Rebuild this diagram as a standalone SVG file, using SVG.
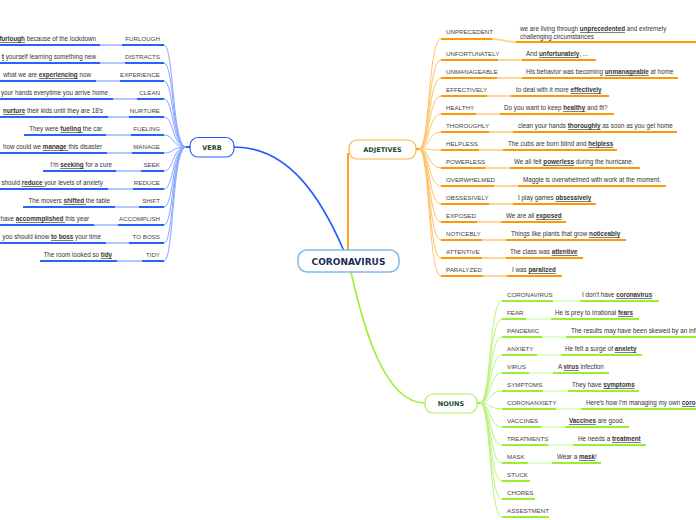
<svg xmlns="http://www.w3.org/2000/svg" width="696" height="520" viewBox="0 0 696 520">
<style>
.lab{font-family:"Liberation Sans",Arial,sans-serif;font-size:6.2px;fill:#444}
.ex{font-family:"Liberation Sans",Arial,sans-serif;font-size:6.3px;fill:#333}
.k{font-weight:bold;text-decoration:underline}
.nt{font-family:"DejaVu Sans",Verdana,sans-serif;font-weight:bold;font-size:6.5px;fill:#1b4a35;text-anchor:middle}
.bd{stroke:#2962ff;stroke-width:2;fill:none}
.bl{stroke:#b3c6ff;stroke-width:2;fill:none}
.bf{stroke:#86a4ff;stroke-width:1;fill:none}
.od{stroke:#ff9900;stroke-width:2;fill:none}
.ol{stroke:#ffd699;stroke-width:2;fill:none}
.of{stroke:#ffc266;stroke-width:1;fill:none}
.gd{stroke:#99f033;stroke-width:2;fill:none}
.gl{stroke:#e0ffc8;stroke-width:2;fill:none}
.gf{stroke:#b8f57a;stroke-width:1;fill:none}
.r{text-anchor:end}
</style>
<rect width="696" height="520" fill="#ffffff"/>
<g id="connectors">
<path d="M234 147 C290 147 322 200 344 251" stroke="#2459ff" stroke-width="1.6" fill="none"/>
<path d="M348 251 L348 153" stroke="#ff9900" stroke-width="1.8" fill="none"/>
<path d="M351 272 C364 330 385 403 425 403" stroke="#99f033" stroke-width="1.6" fill="none"/>
<path d="M184 147 L190 147" class="bd"/>
<g class="bf">
<path d="M164 45 C174 45 172 147 186 147"/>
<path d="M164 63 C174 63 172 147 186 147"/>
<path d="M164 81 C174 81 172 147 186 147"/>
<path d="M164 99 C174 99 172 147 186 147"/>
<path d="M164 117 C174 117 172 147 186 147"/>
<path d="M164 135 C174 135 172 147 186 147"/>
<path d="M164 153 C174 153 172 147 186 147"/>
<path d="M164 171 C174 171 172 147 186 147"/>
<path d="M164 189 C174 189 172 147 186 147"/>
<path d="M164 207 C174 207 172 147 186 147"/>
<path d="M164 225 C174 225 172 147 186 147"/>
<path d="M164 243 C174 243 172 147 186 147"/>
<path d="M164 261 C174 261 172 147 186 147"/>
</g>
<path d="M416 149 L421 149" class="od"/>
<g class="of">
<path d="M419 149 C430 149 428 39 441 39"/>
<path d="M419 149 C430 149 428 60 441 60"/>
<path d="M419 149 C430 149 428 78 441 78"/>
<path d="M419 149 C430 149 428 96 441 96"/>
<path d="M419 149 C430 149 428 114 441 114"/>
<path d="M419 149 C430 149 428 132 441 132"/>
<path d="M419 149 C430 149 428 150 441 150"/>
<path d="M419 149 C430 149 428 168 441 168"/>
<path d="M419 149 C430 149 428 186 441 186"/>
<path d="M419 149 C430 149 428 204 441 204"/>
<path d="M419 149 C430 149 428 222 441 222"/>
<path d="M419 149 C430 149 428 240 441 240"/>
<path d="M419 149 C430 149 428 258 441 258"/>
<path d="M419 149 C430 149 428 276 441 276"/>
</g>
<path d="M477 403 L482 403" class="gd"/>
<g class="gf">
<path d="M480 403 C491 403 489 301 502 301"/>
<path d="M480 403 C491 403 489 319 502 319"/>
<path d="M480 403 C491 403 489 337 502 337"/>
<path d="M480 403 C491 403 489 355 502 355"/>
<path d="M480 403 C491 403 489 373 502 373"/>
<path d="M480 403 C491 403 489 391 502 391"/>
<path d="M480 403 C491 403 489 409 502 409"/>
<path d="M480 403 C491 403 489 427 502 427"/>
<path d="M480 403 C491 403 489 445 502 445"/>
<path d="M480 403 C491 403 489 463 502 463"/>
<path d="M480 403 C491 403 489 481 502 481"/>
<path d="M480 403 C491 403 489 499 502 499"/>
<path d="M480 403 C491 403 489 517 502 517"/>
</g>
</g>
<g id="node-coronavirus">
<rect x="298" y="250" width="101" height="22" rx="9" fill="#fff" stroke="#80bce8" stroke-width="1.5"/>
<text x="348.5" y="264.5" class="nt" style="font-size:9px;fill:#1a2b58">CORONAVIRUS</text>
</g>
<g id="node-verb">
<rect x="190" y="137.5" width="44" height="19.5" rx="8" fill="#fff" stroke="#2459ff" stroke-width="1.2"/>
<text x="212" y="149.5" class="nt">VERB</text>
</g>
<g id="node-adjetives">
<rect x="349" y="140" width="67" height="19" rx="8" fill="#fff" stroke="#ffb040" stroke-width="1.2"/>
<text x="382.5" y="152" class="nt">ADJETIVES</text>
</g>
<g id="node-nouns">
<rect x="425" y="394" width="52" height="19" rx="8" fill="#fff" stroke="#a8f060" stroke-width="1.2"/>
<text x="451" y="406" class="nt">NOUNS</text>
</g>
<g id="verb-items">
<g id="v-furlough"><path d="M0 45H100" class="bd"/><path d="M100 45H122" class="bl"/><path d="M122 45H164" class="bd"/><text x="160" y="41" class="lab r">FURLOUGH</text><text x="96" y="41" class="ex r"><tspan class="k">furlough</tspan> because of the lockdown</text></g>
<g id="v-distracts"><path d="M0 63H100" class="bd"/><path d="M100 63H125" class="bl"/><path d="M125 63H164" class="bd"/><text x="160" y="59" class="lab r">DISTRACTS</text><text x="96" y="59" class="ex r"><tspan class="k">t</tspan> yourself learning something new</text></g>
<g id="v-experience"><path d="M0 81H96" class="bd"/><path d="M96 81H120" class="bl"/><path d="M120 81H164" class="bd"/><text x="160" y="77" class="lab r">EXPERIENCE</text><text x="91" y="77" class="ex r">what we are <tspan class="k">experiencing</tspan> now</text></g>
<g id="v-clean"><path d="M0 99H113" class="bd"/><path d="M113 99H137" class="bl"/><path d="M137 99H164" class="bd"/><text x="160" y="95" class="lab r">CLEAN</text><text x="108" y="95" class="ex r">your hands everytime you arrive home</text></g>
<g id="v-nurture"><path d="M0 117H108" class="bd"/><path d="M108 117H129" class="bl"/><path d="M129 117H164" class="bd"/><text x="160" y="113" class="lab r">NURTURE</text><text x="103" y="113" class="ex r"><tspan class="k">nurture</tspan> their kids until they are 18's</text></g>
<g id="v-fueling"><path d="M24 135H106" class="bd"/><path d="M106 135H131" class="bl"/><path d="M131 135H164" class="bd"/><text x="160" y="131" class="lab r">FUELING</text><text x="102" y="131" class="ex r">They were <tspan class="k">fueling </tspan>the car</text></g>
<g id="v-manage"><path d="M0 153H107" class="bd"/><path d="M107 153H132" class="bl"/><path d="M132 153H164" class="bd"/><text x="160" y="149" class="lab r">MANAGE</text><text x="102" y="149" class="ex r">how could we <tspan class="k">manage </tspan>this disaster</text></g>
<g id="v-seek"><path d="M43 171H116" class="bd"/><path d="M116 171H141" class="bl"/><path d="M141 171H164" class="bd"/><text x="160" y="167" class="lab r">SEEK</text><text x="112" y="167" class="ex r">I'm <tspan class="k">seeking</tspan> for a cure</text></g>
<g id="v-reduce"><path d="M0 189H108" class="bd"/><path d="M108 189H133" class="bl"/><path d="M133 189H164" class="bd"/><text x="160" y="185" class="lab r">REDUCE</text><text x="103" y="185" class="ex r">should <tspan class="k">reduce </tspan>your levels of anxiety</text></g>
<g id="v-shift"><path d="M23 207H115" class="bd"/><path d="M115 207H139" class="bl"/><path d="M139 207H164" class="bd"/><text x="160" y="203" class="lab r">SHIFT</text><text x="110" y="203" class="ex r">The movers <tspan class="k">shifted </tspan>the table</text></g>
<g id="v-accomplish"><path d="M0 225H94" class="bd"/><path d="M94 225H118" class="bl"/><path d="M118 225H164" class="bd"/><text x="160" y="221" class="lab r">ACCOMPLISH</text><text x="89" y="221" class="ex r">have <tspan class="k">accommplished </tspan>this year</text></g>
<g id="v-toboss"><path d="M0 243H106" class="bd"/><path d="M106 243H129" class="bl"/><path d="M129 243H164" class="bd"/><text x="160" y="239" class="lab r">TO BOSS</text><text x="101" y="239" class="ex r">you should know <tspan class="k">to boss</tspan> your time</text></g>
<g id="v-tidy"><path d="M40 261H117" class="bd"/><path d="M117 261H142" class="bl"/><path d="M142 261H164" class="bd"/><text x="160" y="257" class="lab r">TIDY</text><text x="112" y="257" class="ex r">The room looked so <tspan class="k">tidy</tspan></text></g>
</g>
<g id="adj-items">
<g id="a-unprecedent"><path d="M441 39H492" class="od"/><path d="M492 39C502 39 506 42 516 42" class="ol"/><path d="M516 42H696" class="od"/><text x="446" y="34" class="lab">UNPRECEDENT</text><text x="520" y="31" class="ex">we are living through <tspan class="k">unprecedented</tspan> and extremely</text><text x="520" y="39" class="ex">challenging circumstances</text></g>
<g id="a-unfortunately"><path d="M441 60H498" class="od"/><path d="M498 60H522" class="ol"/><path d="M522 60H596" class="od"/><text x="446" y="56" class="lab">UNFORTUNATELY</text><text x="526" y="56" class="ex">And <tspan class="k">unfortunately</tspan>, ...</text></g>
<g id="a-unmanageable"><path d="M441 78H497" class="od"/><path d="M497 78H522" class="ol"/><path d="M522 78H678" class="od"/><text x="446" y="74" class="lab">UNMANAGEABLE</text><text x="526" y="74" class="ex">His behavior was becoming <tspan class="k">unmanageable</tspan> at home</text></g>
<g id="a-effectively"><path d="M441 96H487" class="od"/><path d="M487 96H511" class="ol"/><path d="M511 96H609" class="od"/><text x="446" y="92" class="lab">EFFECTIVELY</text><text x="516" y="92" class="ex">to deal with it more <tspan class="k">effectively</tspan></text></g>
<g id="a-healthy"><path d="M441 114H476" class="od"/><path d="M476 114H500" class="ol"/><path d="M500 114H614" class="od"/><text x="446" y="110" class="lab">HEALTHY</text><text x="504" y="110" class="ex">Do you want to keep <tspan class="k">healthy</tspan> and fit?</text></g>
<g id="a-thoroughly"><path d="M441 132H489" class="od"/><path d="M489 132H513" class="ol"/><path d="M513 132H677" class="od"/><text x="446" y="128" class="lab">THOROUGHLY</text><text x="518" y="128" class="ex">clean your hands <tspan class="k">thoroughly</tspan> as soon as you get home</text></g>
<g id="a-helpless"><path d="M441 150H479" class="od"/><path d="M479 150H503" class="ol"/><path d="M503 150H617" class="od"/><text x="446" y="146" class="lab">HELPLESS</text><text x="508" y="146" class="ex">The cubs are born blind and <tspan class="k">helpless</tspan></text></g>
<g id="a-powerless"><path d="M441 168H485" class="od"/><path d="M485 168H510" class="ol"/><path d="M510 168H640" class="od"/><text x="446" y="164" class="lab">POWERLESS</text><text x="514" y="164" class="ex">We all felt <tspan class="k">powerless</tspan> during the hurricane.</text></g>
<g id="a-overwhelmed"><path d="M441 186H494" class="od"/><path d="M494 186H518" class="ol"/><path d="M518 186H666" class="od"/><text x="446" y="182" class="lab">OVERWHELMED</text><text x="523" y="182" class="ex">Maggie is overwhelmed with work at the moment.</text></g>
<g id="a-obssesively"><path d="M441 204H489" class="od"/><path d="M489 204H513" class="ol"/><path d="M513 204H596" class="od"/><text x="446" y="200" class="lab">OBSSESIVELY</text><text x="518" y="200" class="ex">I play games <tspan class="k">obsessively</tspan></text></g>
<g id="a-exposed"><path d="M441 222H477" class="od"/><path d="M477 222H501" class="ol"/><path d="M501 222H566" class="od"/><text x="446" y="218" class="lab">EXPOSED</text><text x="506" y="218" class="ex">We are all <tspan class="k">exposed</tspan></text></g>
<g id="a-noticebly"><path d="M441 240H482" class="od"/><path d="M482 240H506" class="ol"/><path d="M506 240H626" class="od"/><text x="446" y="236" class="lab">NOTICEBLY</text><text x="511" y="236" class="ex">Things like plants that grow <tspan class="k">noticeably</tspan></text></g>
<g id="a-attentive"><path d="M441 258H482" class="od"/><path d="M482 258H506" class="ol"/><path d="M506 258H583" class="od"/><text x="446" y="254" class="lab">ATTENTIVE</text><text x="510" y="254" class="ex">The class was <tspan class="k">attentive</tspan></text></g>
<g id="a-paralyzed"><path d="M441 276H483" class="od"/><path d="M483 276H507" class="ol"/><path d="M507 276H562" class="od"/><text x="446" y="272" class="lab">PARALYZED</text><text x="512" y="272" class="ex">I was <tspan class="k">paralized</tspan></text></g>
</g>
<g id="noun-items">
<g id="n-coronavirus"><path d="M502 301H553" class="gd"/><path d="M553 301H580" class="gl"/><path d="M580 301H659" class="gd"/><text x="507" y="297" class="lab">CORONAVIRUS</text><text x="582" y="297" class="ex">I don't have <tspan class="k">coronavirus</tspan></text></g>
<g id="n-fear"><path d="M502 319H526" class="gd"/><path d="M526 319H551" class="gl"/><path d="M551 319H639" class="gd"/><text x="507" y="315" class="lab">FEAR</text><text x="555" y="315" class="ex">He is prey to irrational <tspan class="k">fears</tspan></text></g>
<g id="n-pandemic"><path d="M502 337H542" class="gd"/><path d="M542 337H566" class="gl"/><path d="M566 337H696" class="gd"/><text x="507" y="333" class="lab">PANDEMIC</text><text x="571" y="333" class="ex">The results may have been skewed by an infl</text></g>
<g id="n-anxiety"><path d="M502 355H537" class="gd"/><path d="M537 355H561" class="gl"/><path d="M561 355H642" class="gd"/><text x="507" y="351" class="lab">ANXIETY</text><text x="565" y="351" class="ex">He felt a surge of <tspan class="k">anxiety</tspan></text></g>
<g id="n-virus"><path d="M502 373H529" class="gd"/><path d="M529 373H553" class="gl"/><path d="M553 373H609" class="gd"/><text x="507" y="369" class="lab">VIRUS</text><text x="558" y="369" class="ex">A <tspan class="k">virus</tspan> infection</text></g>
<g id="n-symptoms"><path d="M502 391H543" class="gd"/><path d="M543 391H568" class="gl"/><path d="M568 391H639" class="gd"/><text x="507" y="387" class="lab">SYMPTOMS</text><text x="572" y="387" class="ex">They have <tspan class="k">symptoms</tspan></text></g>
<g id="n-coronanxiety"><path d="M502 409H556" class="gd"/><path d="M556 409H581" class="gl"/><path d="M581 409H696" class="gd"/><text x="507" y="405" class="lab">CORONANXIETY</text><text x="586" y="405" class="ex">Here's how I'm managing my own <tspan class="k">coro</tspan></text></g>
<g id="n-vaccines"><path d="M502 427H541" class="gd"/><path d="M541 427H565" class="gl"/><path d="M565 427H629" class="gd"/><text x="507" y="423" class="lab">VACCINES</text><text x="569" y="423" class="ex"><tspan class="k">Vaccines</tspan> are good.</text></g>
<g id="n-treatments"><path d="M502 445H548" class="gd"/><path d="M548 445H573" class="gl"/><path d="M573 445H646" class="gd"/><text x="507" y="441" class="lab">TREATMENTS</text><text x="578" y="441" class="ex">He needs a <tspan class="k">treatment</tspan></text></g>
<g id="n-mask"><path d="M502 463H528" class="gd"/><path d="M528 463H552" class="gl"/><path d="M552 463H601" class="gd"/><text x="507" y="459" class="lab">MASK</text><text x="557" y="459" class="ex">Wear a <tspan class="k">mask</tspan>!</text></g>
<g id="n-stuck"><path d="M502 481H530" class="gd"/><text x="507" y="477" class="lab">STUCK</text></g>
<g id="n-chores"><path d="M502 499H535" class="gd"/><text x="507" y="495" class="lab">CHORES</text></g>
<g id="n-assestment"><path d="M502 517H549" class="gd"/><text x="507" y="513" class="lab">ASSESTMENT</text></g>
</g>
</svg>
